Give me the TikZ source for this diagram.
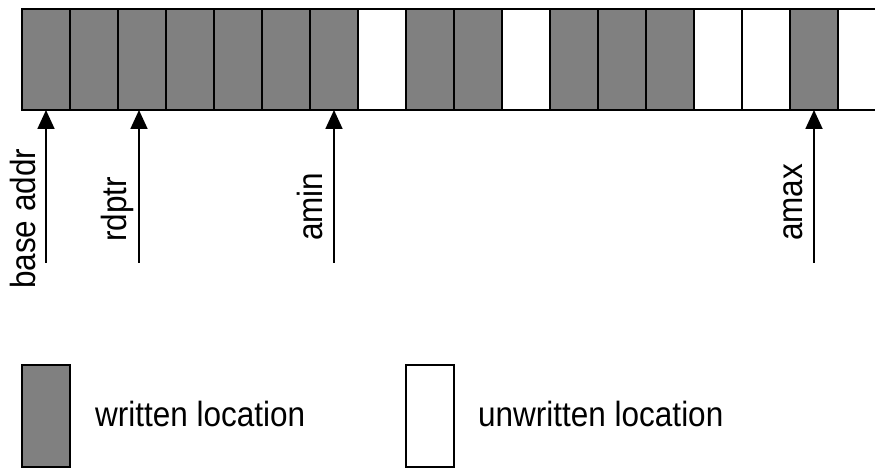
\documentclass[tikz,border=0pt]{standalone}
\usepackage{fontspec}
\setmainfont{Liberation Sans}
\newfontfamily\labfont[FakeStretch=0.9]{Liberation Sans}
\usetikzlibrary{arrows.meta}
\definecolor{wgray}{HTML}{808080}
\begin{document}
\begin{tikzpicture}[x=1pt,y=1pt,
  cellbox/.style={draw=black, line width=1.8pt, minimum width=48pt, minimum height=101pt, inner sep=0pt, outer sep=0pt},
  wcell/.style={cellbox, fill=wgray},
  ucell/.style={cellbox, fill=white},
  legbox/.style={draw=black, line width=1.4pt, minimum width=48pt, minimum height=102pt, inner sep=0pt, outer sep=0pt},
  ptr/.style={line width=1.8pt, -{Triangle[length=19pt,width=17pt]}},
  lab/.style={font=\labfont\fontsize{35}{40}\selectfont, inner sep=0pt, anchor=base west},
]
\useasboundingbox (0,0) rectangle (875,468);
\clip (0,0) rectangle (875,468);
\foreach \i/\k in {0/wcell,1/wcell,2/wcell,3/wcell,4/wcell,5/wcell,6/wcell,7/ucell,8/wcell,9/wcell,10/ucell,11/wcell,12/wcell,13/wcell,14/ucell,15/ucell,16/wcell,17/ucell}
  \node[\k] (c\i) at ({46+48*\i},408.5) {};
% pointers
\coordinate (p0) at (46,205);
\coordinate (p2) at (139,205);
\coordinate (p6) at (334,205);
\coordinate (p16) at (814,205);
\draw[ptr] (p0) -- (p0 |- c0.south);
\draw[ptr] (p2) -- (p2 |- c2.south);
\draw[ptr] (p6) -- (p6 |- c6.south);
\draw[ptr] (p16) -- (p16 |- c16.south);
\node[lab, rotate=90] (l0) at (35,179) {base addr};
\node[lab, rotate=90] (l2) at (126,226) {rdptr};
\node[lab, rotate=90] (l6) at (322,227) {amin};
\node[lab, rotate=90] (l16) at (802,227) {amax};
% legend
\node[legbox, fill=wgray] (gw) at (46,52) {};
\node[lab] (tw) at (95,41) {written location};
\node[legbox, fill=white] (gu) at (430,52) {};
\node[lab] (tu) at (478,41) {unwritten location};
\end{tikzpicture}
\end{document}
